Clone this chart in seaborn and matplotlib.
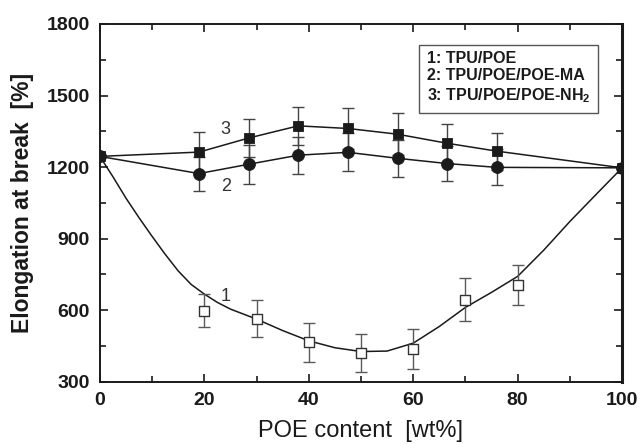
import matplotlib

matplotlib.use("Agg")
import matplotlib.pyplot as plt
import seaborn as sns
from matplotlib.ticker import MultipleLocator

# series 1: TPU/POE (open squares)
poe_1 = [20, 30, 40, 50, 60, 70, 80]
elong_1 = [598, 565, 465, 421, 438, 645, 705]
err_1 = [70, 79, 80, 78, 84, 89, 84]

# series 2 and 3 share the same compositions
poe_23 = [0, 19, 28.5, 38, 47.5, 57, 66.5, 76, 100]
elong_2 = [1245, 1173, 1212, 1250, 1262, 1237, 1215, 1199, 1197]
err_2 = [0, 71, 81, 77, 80, 78, 75, 76, 0]
elong_3 = [1245, 1263, 1322, 1373, 1362, 1338, 1300, 1267, 1197]
err_3 = [0, 85, 80, 80, 85, 87, 81, 77, 0]

# fitted curve for series 1
fit_x = [0, 2.5, 5, 7.5, 10, 12.5, 15, 17.5, 20, 22.5, 25, 30, 35, 40, 45, 50, 55, 60, 65, 70, 75, 80, 85, 90, 95, 100]
fit_1 = [1245, 1160, 1070, 988, 910, 835, 765, 708, 668, 633, 605, 563, 515, 472, 443, 427, 429, 462, 532, 612, 675, 742, 852, 972, 1085, 1197]

legend_lines = ["1: TPU/POE", "2: TPU/POE/POE-MA", "3: TPU/POE/POE-NH$_2$"]

sns.set_style("ticks")
plt.rcParams["font.family"] = ["Liberation Sans", "DejaVu Sans"]
plt.rcParams["mathtext.default"] = "regular"

ink = "#1a1a1a"
fig, ax = plt.subplots(figsize=(6.4, 4.44), dpi=100)
fig.subplots_adjust(left=0.156, right=0.972, bottom=0.14, top=0.946)

sns.lineplot(x=fit_x, y=fit_1, ax=ax, color=ink, lw=1.1, sort=False, estimator=None)
sns.lineplot(x=poe_23, y=elong_2, ax=ax, color=ink, lw=1.1, sort=False, estimator=None)
sns.lineplot(x=poe_23, y=elong_3, ax=ax, color=ink, lw=1.1, sort=False, estimator=None)

ax.errorbar(poe_1, elong_1, yerr=err_1, fmt="none", ecolor="#5a5a5a", elinewidth=1, capsize=4, capthick=1, zorder=3)
ax.errorbar(poe_23[1:-1], elong_2[1:-1], yerr=err_2[1:-1], fmt="none", ecolor="#444444", elinewidth=1, capsize=4, capthick=1, zorder=3)
ax.errorbar(poe_23[1:-1], elong_3[1:-1], yerr=err_3[1:-1], fmt="none", ecolor="#444444", elinewidth=1, capsize=4, capthick=1, zorder=3)

sns.scatterplot(x=poe_1, y=elong_1, ax=ax, marker="s", s=55, facecolor="white", edgecolor="#333333", linewidth=1, zorder=4)
sns.scatterplot(x=poe_23, y=elong_2, ax=ax, marker="o", s=72, color=ink, edgecolor=ink, zorder=4)
sns.scatterplot(x=poe_23, y=elong_3, ax=ax, marker="s", s=55, color=ink, edgecolor=ink, zorder=4)

ax.text(24.1, 1359, "3", fontsize=13, color="#333333", ha="center", va="center")
ax.text(24.1, 1118, "2", fontsize=13, color="#333333", ha="center", va="center")
ax.text(24.1, 658, "1", fontsize=13, color="#333333", ha="center", va="center")

ax.text(0.626, 0.925, "\n".join(legend_lines), transform=ax.transAxes, ha="left", va="top",
        fontsize=11.5, fontweight="bold", color=ink, linespacing=1.2,
        bbox=dict(boxstyle="square,pad=0.5", facecolor="white", edgecolor="#555555", linewidth=1))

ax.set_xlim(0, 100)
ax.set_ylim(300, 1800)
ax.xaxis.set_major_locator(MultipleLocator(20))
ax.xaxis.set_minor_locator(MultipleLocator(10))
ax.yaxis.set_major_locator(MultipleLocator(300))
ax.yaxis.set_minor_locator(MultipleLocator(150))
ax.tick_params(which="both", direction="in", top=True, right=True, color=ink, width=1.2)
ax.tick_params(which="major", length=6, labelsize=14, pad=7)
ax.tick_params(which="minor", length=4)
for lbl in ax.get_xticklabels() + ax.get_yticklabels():
    lbl.set_fontweight("bold")
    lbl.set_color(ink)
for name, side in ax.spines.items():
    side.set_linewidth(2.2 if name == "right" else 1.4)
    side.set_color(ink)

ax.set_xlabel("POE content  [wt%]", fontsize=17, color=ink, labelpad=8)
ax.set_ylabel("Elongation at break  [%]", fontsize=16.5, fontweight="bold", color=ink, labelpad=9)

fig.savefig("out.png", dpi=100)
